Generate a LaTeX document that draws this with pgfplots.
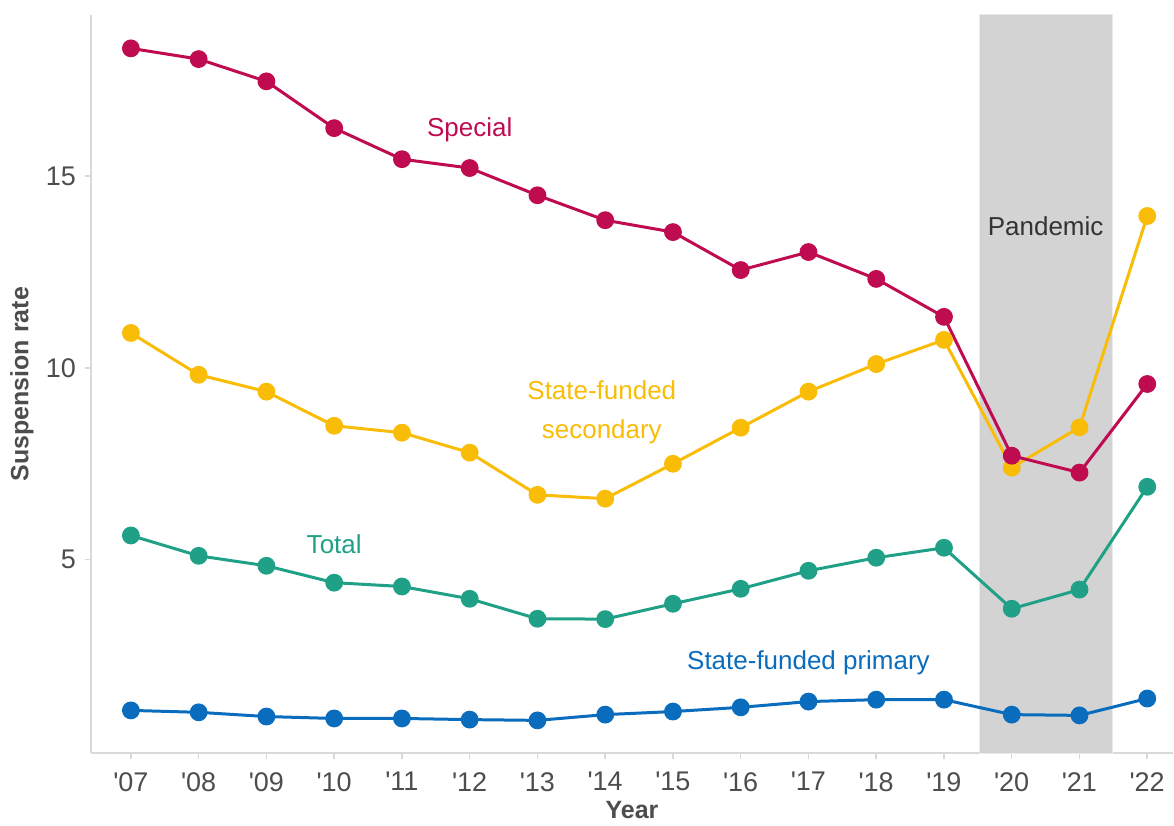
\documentclass[border=0pt]{standalone}
\usepackage{fontspec}
\setmainfont{Liberation Sans}[Ligatures=TeXOff]
\usepackage{pgfplots}
\pgfplotsset{compat=1.18}
\usetikzlibrary{calc}

\definecolor{special}{HTML}{BF0B4F}
\definecolor{secondary}{HTML}{F9BC07}
\definecolor{total}{HTML}{20A187}
\definecolor{primary}{HTML}{0A6CBC}
\definecolor{pandemic}{HTML}{D3D3D3}
\definecolor{axisgray}{HTML}{D9D9D9}
\definecolor{labgray}{HTML}{4D4D4D}

\begin{document}
\begin{tikzpicture}
\begin{axis}[
    name=ax,
    scale only axis, width=541.5pt, height=369.5pt,
    xmin=2006.41, xmax=2022.38, ymin=-0.05, ymax=19.2,
    axis lines=left,
    axis line style={-, draw=axisgray, line width=1pt},
    xtick={2007,...,2022},
    xticklabels={'07,'08,'09,'10,'11,'12,'13,'14,'15,'16,'17,'18,'19,'20,'21,'22},
    ytick={5,10,15},
    tick align=outside, major tick length=3pt,
    tick style={draw=axisgray, line width=0.8pt},
    /pgf/number format/assume math mode=true,
    tick label style={font=\fontsize{13.5}{16}\selectfont, text=labgray},
    xticklabel style={yshift=-3pt},
    yticklabel style={xshift=-1pt},
    xlabel={Year}, ylabel={Suspension rate},
    label style={font=\fontsize{12.5}{15}\selectfont\bfseries, text=labgray},
    xlabel style={at={(axis description cs:0.5,0)}, anchor=center, yshift=-28.5pt},
    ylabel style={at={(axis description cs:0,0.5)}, anchor=center, yshift=34.5pt},
    every axis plot/.append style={line width=1.5pt, mark=*, mark size=3.7pt},
    clip=false,
]
\fill[pandemic, draw=white!92!black, line width=0.5pt]
    (axis cs:2019.52,-0.05) rectangle (axis cs:2021.48,19.2);

\addplot[primary, mark options={fill=primary}] coordinates {
 (2007,1.07) (2008,1.02) (2009,0.91) (2010,0.86) (2011,0.86) (2012,0.83)
 (2013,0.81) (2014,0.96) (2015,1.04) (2016,1.15) (2017,1.30) (2018,1.35)
 (2019,1.35) (2020,0.96) (2021,0.94) (2022,1.38)};
\addplot[total, mark options={fill=total}] coordinates {
 (2007,5.63) (2008,5.10) (2009,4.84) (2010,4.40) (2011,4.30) (2012,3.98)
 (2013,3.46) (2014,3.45) (2015,3.85) (2016,4.24) (2017,4.71) (2018,5.05)
 (2019,5.31) (2020,3.72) (2021,4.22) (2022,6.90)};
\addplot[secondary, mark options={fill=secondary}] coordinates {
 (2007,10.91) (2008,9.82) (2009,9.38) (2010,8.49) (2011,8.31) (2012,7.79)
 (2013,6.69) (2014,6.59) (2015,7.50) (2016,8.44) (2017,9.38) (2018,10.10)
 (2019,10.73) (2020,7.40) (2021,8.45) (2022,13.96)};
\addplot[special, mark options={fill=special}] coordinates {
 (2007,18.33) (2008,18.05) (2009,17.47) (2010,16.25) (2011,15.44) (2012,15.21)
 (2013,14.50) (2014,13.85) (2015,13.54) (2016,12.55) (2017,13.02) (2018,12.32)
 (2019,11.33) (2020,7.71) (2021,7.27) (2022,9.58)};

\begin{scope}[every node/.style={font=\fontsize{13}{19.5}\selectfont}]
\node[special] at (axis cs:2012.0,16.2) {Special};
\node[secondary, align=center] at (axis cs:2013.95,8.83) {State-funded\\secondary};
\node[total] at (axis cs:2010.0,5.39) {Total};
\node[primary] at (axis cs:2017.0,2.32) {State-funded primary};
\node[text=black!80] at (axis cs:2020.5,13.7) {Pandemic};
\end{scope}

\coordinate (sw) at (rel axis cs:0,0);
\coordinate (ne) at (rel axis cs:1,1);
\end{axis}
\path ($(sw)+(-45.5pt,-35pt)$) rectangle ($(ne)+(0pt,7.5pt)$);
\end{tikzpicture}
\end{document}
